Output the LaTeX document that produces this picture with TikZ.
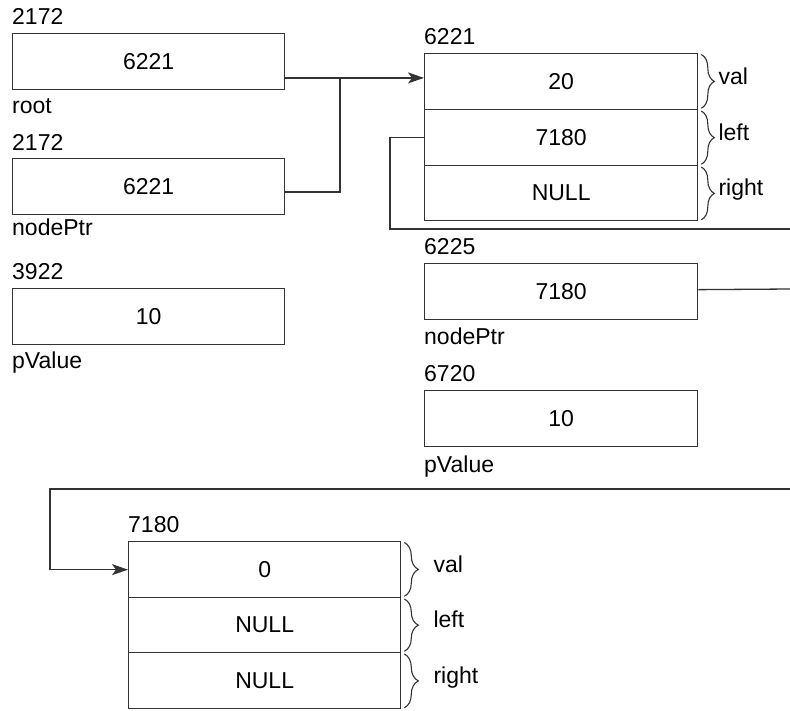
\documentclass[tikz,border=0pt]{standalone}
\usepackage{fontspec}
\setmainfont{Liberation Sans}
\usetikzlibrary{arrows.meta,decorations.pathreplacing}
\begin{document}
\begin{tikzpicture}[x=1pt,y=-1pt,
  ln/.style={line width=1.3pt, draw=black!80},
  cell/.style={ln, rectangle, minimum width=272pt, minimum height=55.5pt, inner sep=0pt, anchor=north west, font=\fontsize{23}{27}\selectfont, text=black},
  lbl/.style={anchor=base west, inner sep=0pt, font=\fontsize{23}{27}\selectfont, text=black},
  fld/.style={anchor=mid west, inner sep=0pt, font=\fontsize{23}{27}\selectfont, text=black},
  brc/.style={draw=black!80, line width=1.1pt, decorate, decoration={brace, amplitude=13pt}},
  wire/.style={ln},
  arr/.style={ln, -{Stealth[length=16pt,width=11pt,inset=4pt]}}
]
\useasboundingbox (0,0) rectangle (790,710);

% left column
\node[lbl] (a1) at (12,24) {2172};
\node[cell] (root) at (12,33) {6221};
\node[lbl] (n1) at (12,113) {root};
\node[lbl] (a2) at (12,150) {2172};
\node[cell] (np) at (12,158) {6221};
\node[lbl] (n2) at (12,235) {nodePtr};
\node[lbl] (a3) at (12,279) {3922};
\node[cell] (pv) at (12,288) {10};
\node[lbl] (n3) at (12,368) {pValue};

% right column
\node[lbl] (a4) at (424,44) {6221};
\node[cell, minimum width=273pt, minimum height=56pt] (v1) at (424,53) {20};
\node[cell, minimum width=273pt, minimum height=56pt] (l1) at (424,109) {7180};
\node[cell, minimum width=273pt, minimum height=55pt] (r1) at (424,165) {NULL};
\node[lbl] (a5) at (424,254) {6225};
\node[cell, minimum width=273pt, minimum height=56pt] (np2) at (424,263) {7180};
\node[lbl] (n4) at (424,344) {nodePtr};
\node[lbl] (a6) at (424,381) {6720};
\node[cell, minimum width=273pt, minimum height=56pt] (pv2) at (424,390) {10};
\node[lbl] (n5) at (424,472) {pValue};

% bottom struct
\node[lbl] (a7) at (128,532) {7180};
\node[cell, minimum height=56pt] (w1) at (128,541) {0};
\node[cell, minimum height=55pt] (w2) at (128,597) {NULL};
\node[cell, minimum height=56pt] (w3) at (128,652) {NULL};

% braces top struct
\draw[brc] ([xshift=3pt,yshift=-1.5pt]v1.north east) -- ([xshift=3pt,yshift=2pt]v1.south east);
\draw[brc] ([xshift=3pt,yshift=-2pt]l1.north east) -- ([xshift=3pt,yshift=2pt]l1.south east);
\draw[brc] ([xshift=3pt,yshift=-2pt]r1.north east) -- ([xshift=3pt,yshift=1.5pt]r1.south east);
\node[fld] (tv1) at ([xshift=20pt]v1.east) {val};
\node[fld] (tl1) at ([xshift=20pt]l1.east) {left};
\node[fld] (tr1) at ([xshift=20pt]r1.east) {right};

% braces bottom struct
\draw[brc, decoration={brace, amplitude=14pt}] ([xshift=3pt,yshift=-1.5pt]w1.north east) -- ([xshift=3pt,yshift=2pt]w1.south east);
\draw[brc, decoration={brace, amplitude=14pt}] ([xshift=3pt,yshift=-2pt]w2.north east) -- ([xshift=3pt,yshift=2pt]w2.south east);
\draw[brc, decoration={brace, amplitude=14pt}] ([xshift=3pt,yshift=-2pt]w3.north east) -- ([xshift=3pt,yshift=1.5pt]w3.south east);
\node[fld] (tw1) at ([xshift=32pt]w1.east) {val};
\node[fld] (tw2) at ([xshift=32pt]w2.east) {left};
\node[fld] (tw3) at ([xshift=32pt]w3.east) {right};

% connectors
\coordinate (j) at (340,77);
\draw[arr] ([yshift=-16.5pt]root.east) -- ([yshift=-16.5pt]root.east -| v1.west);
\draw[wire] ([yshift=-5.5pt]np.east) -| (j);

\coordinate (e1) at (790,229);
\draw[wire] (l1.west) -- ++(-34,0) |- (e1);

\coordinate (e2) at (790,289);
\draw[wire] ([yshift=2pt]np2.east) -- (e2);

\coordinate (e3) at (790,489);
\draw[arr] (e3) -- (50,489) |- (w1.west);
\end{tikzpicture}
\end{document}
